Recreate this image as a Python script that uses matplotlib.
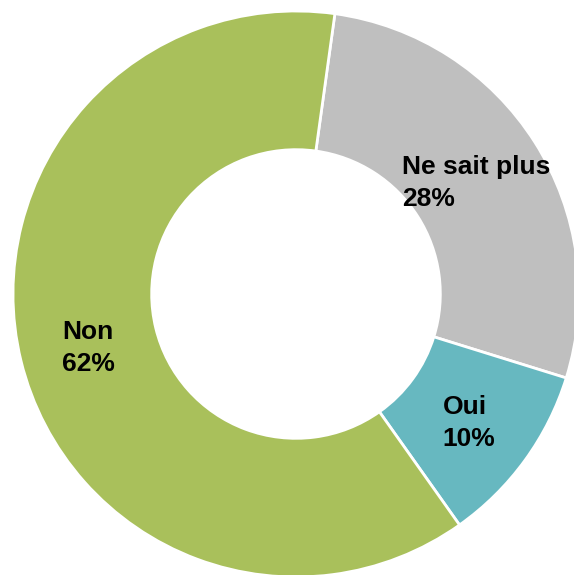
import numpy as np
import matplotlib.pyplot as plt

labels = ["Ne sait plus", "Oui", "Non"]
values = [27.6, 10.4, 62.0]
colors = ["#BFBFBF", "#67B8C0", "#A9C05B"]

fig = plt.figure(figsize=(5.74, 5.75), dpi=100)
ax = fig.add_axes([0, 0, 1, 1])

inner = 0.51
wedges, _ = ax.pie(values, colors=colors, startangle=82.1, counterclock=False,
                   radius=1.0,
                   wedgeprops=dict(width=1 - inner, edgecolor="white", linewidth=2))

# labels at the middle of each ring segment
r_lab = (1 + inner) / 2
for w, lab, v in zip(wedges, labels, values):
    ang = np.deg2rad((w.theta1 + w.theta2) / 2)
    ax.annotate(f"{lab}\n{v:.0f}%", (r_lab * np.cos(ang), r_lab * np.sin(ang)),
                xytext=(0, -2.5), textcoords="offset points",
                ha="center", va="center", multialignment="left",
                fontsize=19, fontweight="bold", family="Liberation Sans",
                linespacing=1.4, color="black")

ax.set_aspect("auto")
ax.set_xlim(-296 / 283, (574 - 296) / 283)
ax.set_ylim(-(575 - 294) / 283, 294 / 283)
ax.axis("off")

fig.savefig("out.png", dpi=100)
